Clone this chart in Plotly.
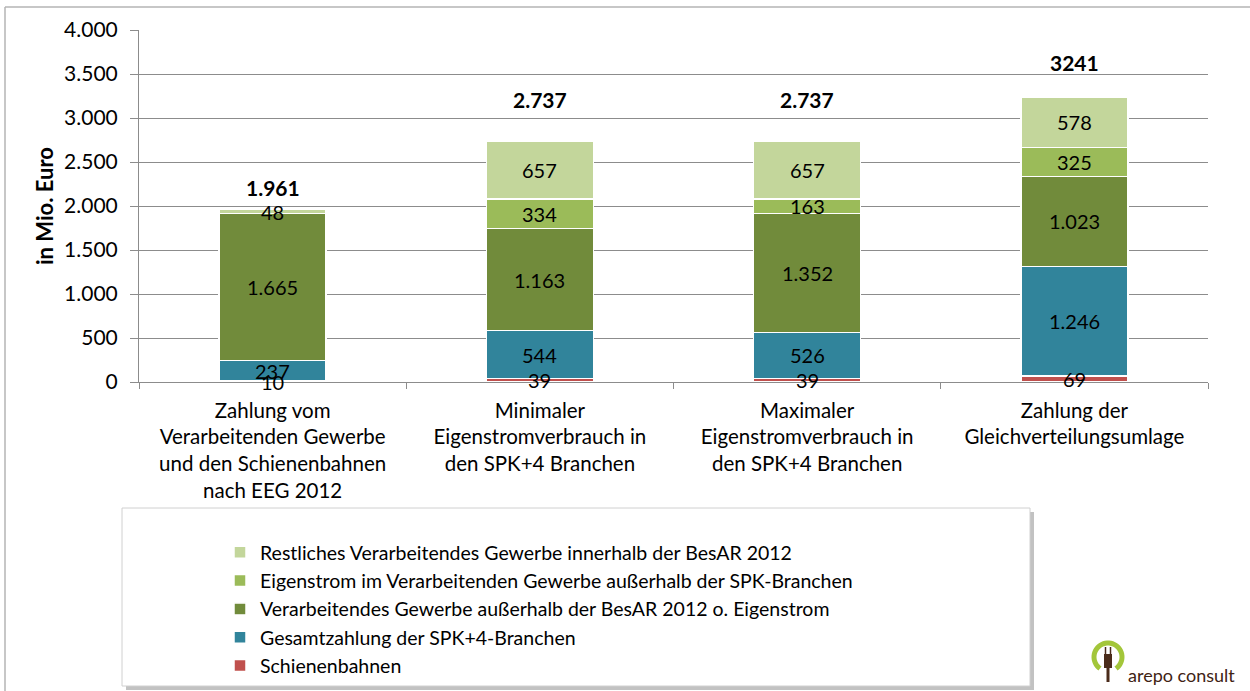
import numpy as np
import plotly.graph_objects as go

# ---------------- data ----------------
categories = [
    "Zahlung vom<br>Verarbeitenden Gewerbe<br>und den Schienenbahnen<br>nach EEG 2012",
    "Minimaler<br>Eigenstromverbrauch in<br>den SPK+4 Branchen",
    "Maximaler<br>Eigenstromverbrauch in<br>den SPK+4 Branchen",
    "Zahlung der<br>Gleichverteilungsumlage",
]
series_names = [
    "Schienenbahnen",
    "Gesamtzahlung der SPK+4-Branchen",
    "Verarbeitendes Gewerbe außerhalb der BesAR 2012 o. Eigenstrom",
    "Eigenstrom im Verarbeitenden Gewerbe außerhalb der SPK-Branchen",
    "Restliches Verarbeitendes Gewerbe innerhalb der BesAR 2012",
]
schienenbahnen = [10, 39, 39, 69]
spk4 = [237, 544, 526, 1246]
verarb_ausserhalb = [1665, 1163, 1352, 1023]
eigenstrom = [0, 334, 163, 325]
restliches = [48, 657, 657, 578]
totals = [1961, 2737, 2737, 3241]
total_labels = ["1.961", "2.737", "2.737", "3241"]
y_ticks = [0, 500, 1000, 1500, 2000, 2500, 3000, 3500, 4000]

# ---------------- styling ----------------
colors = ["#c0504d", "#31849b", "#718b3b", "#9bbb59", "#c3d69b"]
label_offsets = [245, 470, 470, 395]  # vertical gap of total labels above bars
FONT = "Lato, Carlito, Calibri, sans-serif"
W, H = 1250, 691
PL, PR, PT, PB = 139, 1208, 30, 382


def px(x):
    return (x - PL) / (PR - PL)


def py(y):
    return (PB - y) / (PB - PT)


def de(v):
    return f"{v:,}".replace(",", ".")


fig = go.Figure()
all_series = [schienenbahnen, spk4, verarb_ausserhalb, eigenstrom, restliches]
n = len(all_series)
for i, (name, vals, col) in enumerate(zip(series_names, all_series, colors)):
    fig.add_trace(go.Bar(
        x=categories, y=vals, name=name, legendgroup=name, legendrank=n - i,
        marker=dict(color=col, line=dict(color="white", width=1.5)),
        width=0.4, hoverinfo="name+y",
    ))

# segment value labels (drawn on top of all bars)
base = np.zeros(len(categories))
for vals in all_series:
    v = np.array(vals, dtype=float)
    for cat, b, val in zip(categories, base, v):
        if val > 0:
            fig.add_annotation(x=cat, y=b + val / 2, text=de(int(val)), showarrow=False,
                               font=dict(family=FONT, size=20, color="black"),
                               xanchor="center", yanchor="middle")
    base = base + v

for cat, tot, lab, off in zip(categories, totals, total_labels, label_offsets):
    fig.add_annotation(x=cat, y=tot + off, text=f"<b>{lab}</b>", showarrow=False,
                       font=dict(family=FONT, size=21, color="black"),
                       xanchor="center", yanchor="middle")

shapes = []
# outer border
shapes.append(dict(type="line", xref="paper", yref="paper", x0=px(5), x1=px(1252), y0=py(7), y1=py(7),
                   line=dict(color="#b4b4b4", width=1.5)))
shapes.append(dict(type="line", xref="paper", yref="paper", x0=px(5), x1=px(5), y0=py(7), y1=py(693),
                   line=dict(color="#b4b4b4", width=1.5)))
# legend box shadow + box
shapes.append(dict(type="rect", xref="paper", yref="paper", x0=px(126), x1=px(1034), y0=py(512), y1=py(690),
                   fillcolor="rgba(120,120,120,0.45)", line=dict(width=0), layer="below"))
shapes.append(dict(type="rect", xref="paper", yref="paper", x0=px(122), x1=px(1030), y0=py(508), y1=py(686),
                   fillcolor="white", line=dict(color="#d0d0d0", width=1), layer="below"))

# logo: green arc + brown plug
cx, cy, r = 1108, 657, 14
ang = np.linspace(np.deg2rad(-55), np.deg2rad(235), 40)
pts = [(cx + r * np.cos(a), cy - r * np.sin(a)) for a in ang]
path = "M " + " L ".join(f"{px(x):.5f},{py(y):.5f}" for x, y in pts)
shapes.append(dict(type="path", xref="paper", yref="paper", path=path,
                   line=dict(color="#a3c63a", width=5)))
shapes.append(dict(type="rect", xref="paper", yref="paper", x0=px(1104), x1=px(1112), y0=py(668), y1=py(654),
                   fillcolor="#4a2b1a", line=dict(width=0)))
shapes.append(dict(type="line", xref="paper", yref="paper", x0=px(1108), x1=px(1108), y0=py(667), y1=py(682),
                   line=dict(color="#4a2b1a", width=3)))
for dx in (-2.5, 2.5):
    shapes.append(dict(type="line", xref="paper", yref="paper", x0=px(1108 + dx), x1=px(1108 + dx),
                       y0=py(654), y1=py(647), line=dict(color="#4a2b1a", width=1.5)))
fig.add_annotation(xref="paper", yref="paper", x=px(1126), y=py(675), text="arepo consult",
                   showarrow=False, xanchor="left", yanchor="middle",
                   font=dict(family=FONT, size=18, color="#3f2314"))

# y-axis title
fig.add_annotation(xref="paper", yref="paper", x=px(44), y=py(206), text="<b>in Mio. Euro</b>",
                   textangle=-90, showarrow=False, xanchor="center", yanchor="middle",
                   font=dict(family=FONT, size=22, color="black"))

fig.update_layout(
    width=W, height=H,
    margin=dict(l=PL, r=W - PR, t=PT, b=H - PB, autoexpand=False),
    paper_bgcolor="white", plot_bgcolor="white",
    barmode="stack", bargap=0.6,
    font=dict(family=FONT, size=20, color="black"),
    separators=",.",
    shapes=shapes,
    showlegend=True,
    legend=dict(
        xref="container", yref="container",
        x=220 / W, y=1 - 533 / H, xanchor="left", yanchor="top",
        traceorder="normal", tracegroupgap=0,
        font=dict(family=FONT, size=19.5, color="black"),
        bgcolor="rgba(0,0,0,0)", borderwidth=0,
        itemclick=False,
    ),
)
fig.update_yaxes(
    range=[0, 4000], tickvals=y_ticks, ticktext=[de(v) for v in y_ticks],
    showgrid=True, gridcolor="#8c8c8c", gridwidth=1,
    showline=True, linecolor="#8c8c8c", linewidth=1,
    ticks="outside", ticklen=8, tickcolor="#8c8c8c",
    ticklabelstandoff=8,
    tickfont=dict(family=FONT, size=21, color="black"),
    zeroline=False, automargin=False,
)
fig.update_xaxes(
    showline=True, linecolor="#8c8c8c", linewidth=1,
    ticks="outside", ticklen=6, tickcolor="#8c8c8c", tickson="boundaries",
    ticklabelstandoff=10,
    tickfont=dict(family=FONT, size=20.5, color="black"),
    showgrid=False, automargin=False,
)

fig.write_html("out.html", post_script="document.body.style.margin='0';",
               config={"displayModeBar": False})
